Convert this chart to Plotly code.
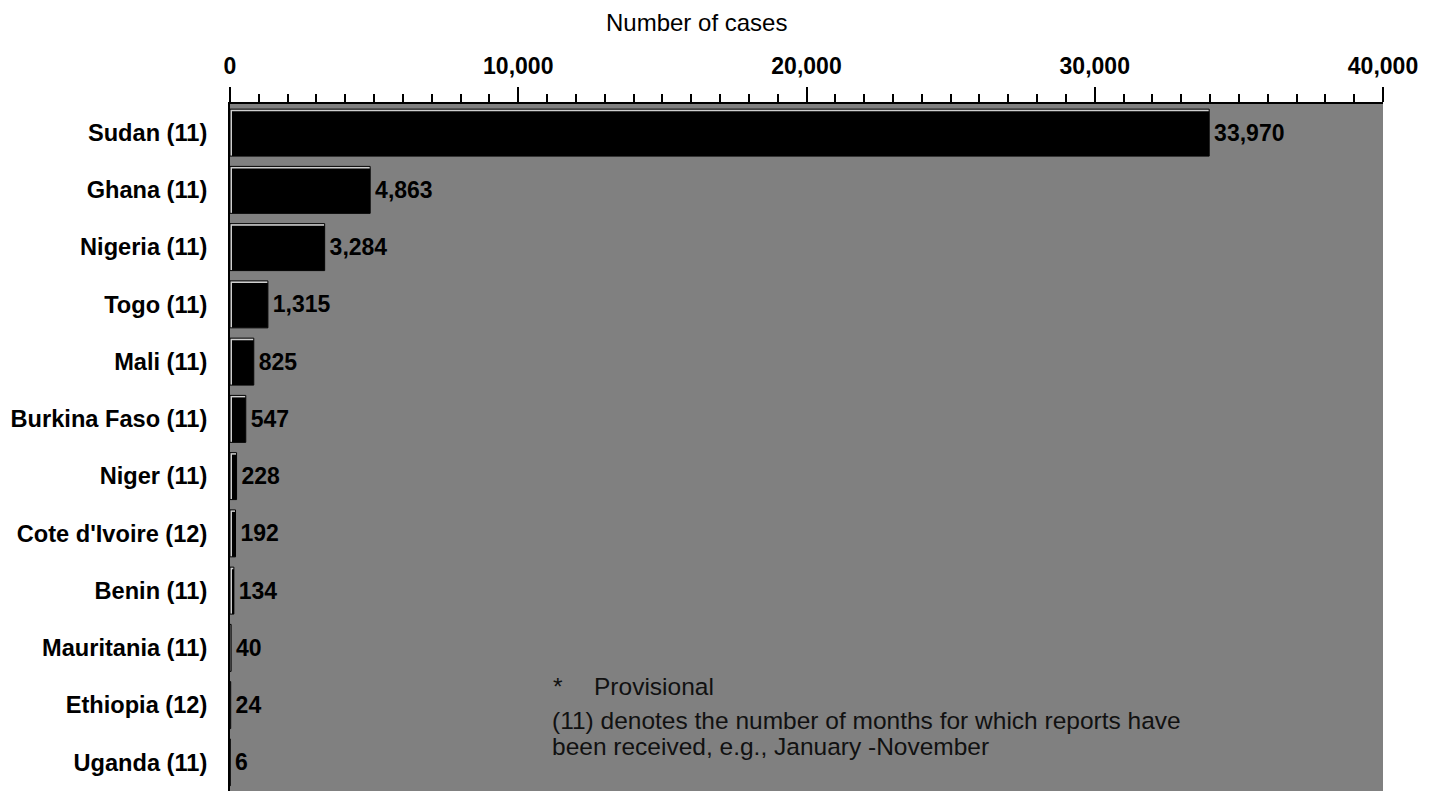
import plotly.graph_objects as go

# Reported cases by country (months of reporting in brackets)
countries = [
    "Sudan (11)", "Ghana (11)", "Nigeria (11)", "Togo (11)", "Mali (11)",
    "Burkina Faso (11)", "Niger (11)", "Cote d'Ivoire (12)", "Benin (11)",
    "Mauritania (11)", "Ethiopia (12)", "Uganda (11)",
]
cases = [33970, 4863, 3284, 1315, 825, 547, 228, 192, 134, 40, 24, 6]

x_ticks = [0, 10000, 20000, 30000, 40000]
axis_title = "Number of cases"
note_star = "*"
note_provisional = "Provisional"
note_lines = [
    "(11) denotes the number of months for which reports have",
    "been received, e.g., January -November",
]

FONT = "Arial, 'Liberation Sans', sans-serif"
W, H = 1441, 791
L, R, T, B = 230, 58, 104, 0
PW, PH = W - L - R, H - T - B
X_MAX = 40000
BAR_W = 0.82

# one pixel expressed in axis units, used for the bevelled bar edge
px_val = X_MAX / PW
px_cat = 1 / (PH / len(countries))


def px_x(px):
    return (px - L) / PW


def px_y(py):
    return (H - B - py) / PH


fig = go.Figure()
# Outer bar: black outline with a light inner edge showing on top/left
fig.add_trace(go.Bar(
    x=cases,
    y=countries,
    orientation="h",
    width=BAR_W,
    marker=dict(color="#cfcfcf", line=dict(color="black", width=1)),
    text=["\u200a" + f"{v:,}" for v in cases],
    textposition="outside",
    textfont=dict(family=FONT, size=23, color="black", weight="bold"),
    cliponaxis=False,
    showlegend=False,
    hoverinfo="skip",
))
# Solid black body, inset from the top/left edge
inset = 2 * px_val
fig.add_trace(go.Bar(
    x=[max(v - inset, 0) for v in cases],
    base=[min(inset, v) for v in cases],
    y=countries,
    orientation="h",
    width=BAR_W - 2 * px_cat,
    offset=-BAR_W / 2 + 2 * px_cat,
    marker=dict(color="black", line=dict(width=0)),
    showlegend=False,
    hovertemplate="%{y}: %{customdata:,}<extra></extra>",
    customdata=cases,
))

fig.update_layout(
    width=W,
    height=H,
    barmode="overlay",
    margin=dict(l=L, r=R, t=T, b=B, pad=0),
    paper_bgcolor="white",
    plot_bgcolor="#808080",
    font=dict(family=FONT, color="black"),
    xaxis=dict(
        side="top",
        range=[0, X_MAX],
        tickvals=x_ticks,
        tickformat=",d",
        tickfont=dict(family=FONT, size=23, color="black", weight="bold"),
        ticks="outside",
        ticklen=15,
        tickwidth=2,
        tickcolor="black",
        ticklabelstandoff=4,
        minor=dict(dtick=1000, ticks="outside", ticklen=8, tickwidth=2,
                   tickcolor="black", showgrid=False),
        showline=True,
        linecolor="black",
        linewidth=2,
        showgrid=False,
        zeroline=False,
        fixedrange=True,
    ),
    yaxis=dict(
        categoryorder="array",
        categoryarray=countries,
        range=[11.5, -0.5],
        tickfont=dict(family=FONT, size=23.6, color="black", weight="bold"),
        ticks="",
        ticklabelstandoff=16,
        showline=True,
        linecolor="black",
        linewidth=2,
        showgrid=False,
        zeroline=False,
    ),
    annotations=[
        dict(text=axis_title, xref="paper", yref="paper",
             x=px_x(696), y=px_y(22), xanchor="center", yanchor="middle",
             showarrow=False, font=dict(family=FONT, size=24, color="black")),
        dict(text=note_star, xref="paper", yref="paper",
             x=px_x(551), y=px_y(686), xanchor="left", yanchor="middle",
             showarrow=False, font=dict(family=FONT, size=24.5, color="#111111")),
        dict(text=note_provisional, xref="paper", yref="paper",
             x=px_x(592), y=px_y(686), xanchor="left", yanchor="middle",
             showarrow=False, font=dict(family=FONT, size=24.5, color="#111111")),
        dict(text=note_lines[0], xref="paper", yref="paper",
             x=px_x(550), y=px_y(720), xanchor="left", yanchor="middle",
             showarrow=False, font=dict(family=FONT, size=24.5, color="#111111")),
        dict(text=note_lines[1], xref="paper", yref="paper",
             x=px_x(550), y=px_y(746), xanchor="left", yanchor="middle",
             showarrow=False, font=dict(family=FONT, size=24.5, color="#111111")),
    ],
)

fig.write_html("out.html", config={"displayModeBar": False})
